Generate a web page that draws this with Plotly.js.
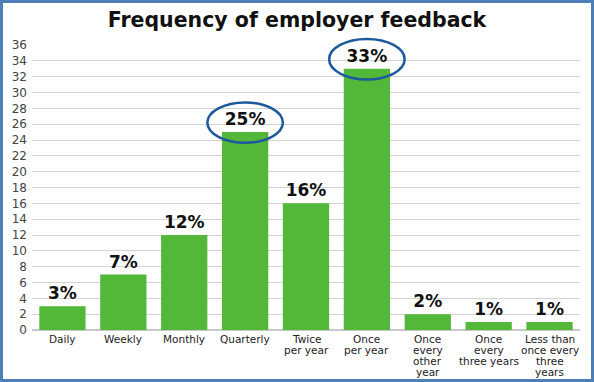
<!DOCTYPE html>
<html><head><meta charset="utf-8">
<script src="https://cdn.plot.ly/plotly-3.0.1.min.js"></script>
<style>
html,body{margin:0;padding:0;background:#fff;}
#chart{width:594px;height:382px;box-sizing:border-box;border:3px solid #4f7fb8;}
</style></head>
<body><div id="chart"></div>
<script>
const categories = ["Daily","Weekly","Monthly","Quarterly","Twice<br>per year","Once<br>per year","Once<br>every<br>other<br>year","Once<br>every<br>three years","Less than<br>once every<br>three<br>years"];
const percents = [3, 7, 12, 25, 16, 33, 2, 1, 1];
const highlighted = [3, 5];
const yTicks = [0,2,4,6,8,10,12,14,16,18,20,22,24,26,28,30,32,34,36];
const yMax = 36;

const xIdx = categories.map((c, i) => i);
const trace = {
  type: 'bar', x: xIdx, y: percents,
  marker: {color: '#53b83a'},
  text: percents.map(v => v + '%'),
  textposition: 'outside', cliponaxis: false,
  textfont: {family: 'DejaVu Sans', size: 17, color: '#111', weight: 'bold'},
  hoverinfo: 'none'
};
const shapes = highlighted.map(i => ({
  type: 'circle', xref: 'x', yref: 'paper',
  x0: i - 0.62, x1: i + 0.62,
  y0: (percents[i] - 1.35) / yMax, y1: (percents[i] + 3.75) / yMax,
  line: {color: '#1c5a9c', width: 2.5}, layer: 'above'
}));
// category labels as tightly spaced lines
const annotations = [];
categories.forEach((c, i) => {
  c.split('<br>').forEach((line, k) => {
    annotations.push({
      xref: 'x', yref: 'paper', x: i, y: 0, xanchor: 'center', yanchor: 'top',
      yshift: -2 - k * 11, text: line, showarrow: false, borderpad: 0,
      font: {family: 'DejaVu Sans', size: 10.5, color: '#222'}
    });
  });
});
const layout = {
  width: 588, height: 376,
  margin: {l: 29, r: 11, t: 42, b: 49},
  paper_bgcolor: '#fff', plot_bgcolor: '#fff',
  title: {text: '<b>Frequency of employer feedback</b>', x: 0.5, xanchor: 'center', y: 0.975, yanchor: 'top',
          font: {family: 'DejaVu Sans', size: 20.5, color: '#111'}},
  bargap: 0.24,
  showlegend: false,
  xaxis: {tickmode: 'array', tickvals: xIdx, range: [-0.5, 8.5], showticklabels: false,
          showgrid: false, ticks: '', zeroline: false, showline: false, fixedrange: true, automargin: false},
  yaxis: {range: [0, yMax], tickmode: 'array', tickvals: yTicks, ticktext: yTicks.map(String),
          tickfont: {family: 'DejaVu Sans', size: 12, color: '#444'}, gridcolor: '#d3d3d3', gridwidth: 1,
          zeroline: true, zerolinecolor: '#c8c8c8', zerolinewidth: 2, ticks: '', ticklabelstandoff: 4, fixedrange: true, automargin: false},
  shapes: shapes,
  annotations: annotations
};
Plotly.newPlot('chart', [trace], layout, {displayModeBar: false, staticPlot: true});
</script></body></html>
